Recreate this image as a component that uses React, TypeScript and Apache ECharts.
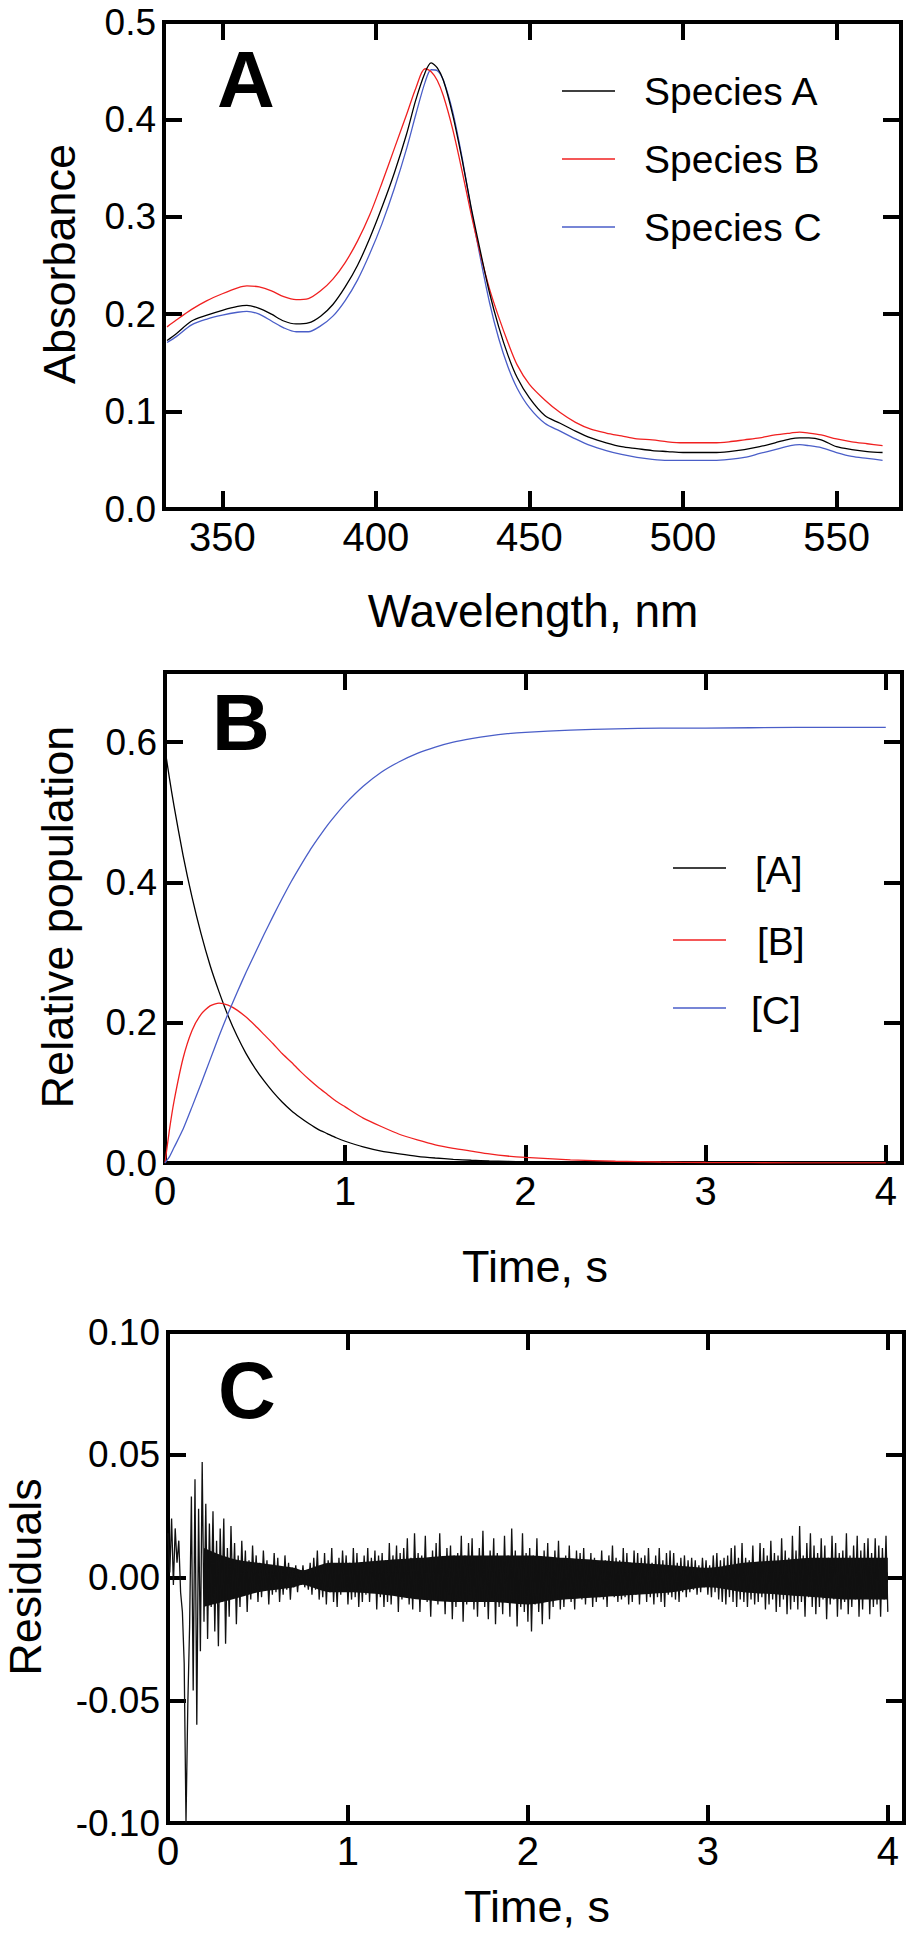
import React, { useEffect, useRef } from "react";
import * as echarts from "echarts";

// ---------- Panel A: spectra ----------
const wavelengths = [332, 335, 340, 345, 350, 355, 358, 362, 366, 370, 374, 378, 382, 386, 390, 394, 398, 402, 406, 410, 413, 416, 418, 420, 422, 425, 428, 431, 434, 437, 440, 443, 446, 450, 455, 460, 465, 470, 475, 480, 485, 490, 495, 500, 505, 510, 515, 520, 525, 530, 535, 538, 541, 545, 550, 555, 560, 565];
const speciesA = [0.173, 0.180, 0.193, 0.199, 0.204, 0.208, 0.209, 0.206, 0.200, 0.193, 0.190, 0.191, 0.198, 0.210, 0.228, 0.250, 0.278, 0.310, 0.345, 0.385, 0.420, 0.448, 0.458, 0.453, 0.440, 0.405, 0.360, 0.310, 0.265, 0.222, 0.187, 0.158, 0.135, 0.114, 0.096, 0.088, 0.080, 0.073, 0.068, 0.064, 0.062, 0.060, 0.059, 0.058, 0.058, 0.058, 0.059, 0.061, 0.064, 0.068, 0.072, 0.073, 0.073, 0.071, 0.064, 0.061, 0.059, 0.058];
const speciesB = [0.187, 0.194, 0.205, 0.214, 0.221, 0.227, 0.229, 0.228, 0.224, 0.218, 0.215, 0.216, 0.224, 0.236, 0.253, 0.275, 0.302, 0.335, 0.370, 0.405, 0.432, 0.452, 0.449, 0.440, 0.424, 0.390, 0.348, 0.303, 0.262, 0.226, 0.197, 0.171, 0.148, 0.128, 0.112, 0.099, 0.089, 0.082, 0.078, 0.075, 0.072, 0.071, 0.069, 0.068, 0.068, 0.068, 0.069, 0.071, 0.073, 0.076, 0.078, 0.079, 0.078, 0.076, 0.072, 0.069, 0.067, 0.065];
const speciesC = [0.171, 0.177, 0.189, 0.195, 0.199, 0.202, 0.203, 0.200, 0.193, 0.186, 0.182, 0.182, 0.188, 0.198, 0.214, 0.235, 0.262, 0.293, 0.329, 0.370, 0.405, 0.438, 0.451, 0.450, 0.440, 0.408, 0.362, 0.308, 0.258, 0.212, 0.175, 0.146, 0.124, 0.104, 0.088, 0.080, 0.072, 0.065, 0.060, 0.056, 0.053, 0.051, 0.050, 0.050, 0.050, 0.050, 0.051, 0.053, 0.057, 0.061, 0.065, 0.066, 0.065, 0.063, 0.058, 0.054, 0.052, 0.050];

// ---------- Panel B: populations ----------
const times = [0, 0.025, 0.05, 0.1, 0.15, 0.2, 0.25, 0.3, 0.35, 0.4, 0.45, 0.5, 0.55, 0.6, 0.65, 0.7, 0.75, 0.8, 0.85, 0.9, 0.95, 1.0, 1.1, 1.2, 1.3, 1.4, 1.5, 1.6, 1.7, 1.8, 1.9, 2.0, 2.25, 2.5, 2.75, 3.0, 3.5, 4.0];
const popA = [0.590, 0.548, 0.509, 0.439, 0.379, 0.327, 0.282, 0.244, 0.210, 0.181, 0.156, 0.135, 0.117, 0.101, 0.087, 0.075, 0.065, 0.056, 0.048, 0.042, 0.036, 0.031, 0.023, 0.017, 0.013, 0.0095, 0.0071, 0.0053, 0.0039, 0.0029, 0.0022, 0.0016, 0.0008, 0.0004, 0.0002, 0.0001, 0, 0];
const popB = [0, 0.048, 0.088, 0.149, 0.189, 0.212, 0.224, 0.228, 0.225, 0.218, 0.208, 0.196, 0.183, 0.170, 0.156, 0.144, 0.131, 0.119, 0.108, 0.098, 0.088, 0.080, 0.064, 0.052, 0.041, 0.033, 0.026, 0.021, 0.017, 0.013, 0.010, 0.008, 0.0045, 0.0025, 0.0014, 0.0007, 0.0002, 0.0001];
const popC = [0, 0.009, 0.022, 0.048, 0.080, 0.113, 0.147, 0.181, 0.213, 0.243, 0.272, 0.299, 0.326, 0.352, 0.377, 0.401, 0.423, 0.444, 0.463, 0.481, 0.497, 0.512, 0.537, 0.557, 0.572, 0.584, 0.593, 0.600, 0.605, 0.609, 0.612, 0.614, 0.617, 0.619, 0.620, 0.620, 0.621, 0.621];

// ---------- Panel C: residuals (units of 0.001), sampled every 0.01 s ----------
const residualStep = 0.01;
const residualsMilli = [
  18, 2, 24, -3, 20, 6, 15, -6, -14, -35,
  -100, -52, -20, 33, -46, 40, -60, 28, -30, 47,
  -18, 30, -25, 22, -12, 27, -22, 15, -28, 20,
  -10, 24, -27, 12, -16, 21, -8, 14, -19, 9,
  -12, 15, -6, 11, -14, 7, -9, 13, -5, 9,
  -10, 6, -8, 11, -4, 7, -11, 5, -7, 10,
  -6, 8, -10, 4, -7, 9, -5, 6, -9, 4,
  -4, 5, -6, 3, -3, 5, -4, 2, -5, 6,
  -7, 8, -5, 11, -9, 4, -8, 10, -11, 7,
  -6, 12, -10, 5, -12, 8, -7, 11, -4, 9,
  -11, 6, -9, 12, -8, 10, -12, 5, -10, 9,
  -7, 12, -10, 8, -6, 11, -13, 9, -8, 10,
  -12, 7, -10, 14, -11, 9, -6, 13, -14, 10,
  -9, 12, -7, 16, -11, 8, -13, 18, -6, 10,
  -14, 9, -8, 17, -10, 7, -16, 11, -9, 14,
  -11, 18, -9, 8, -15, 12, -7, 13, -17, 9,
  -12, 10, -8, 17, -18, 9, -11, 14, -7, 16,
  -13, 8, -16, 12, -9, 19, -12, 8, -17, 11,
  -8, 16, -19, 10, -12, 7, -15, 17, -10, 9,
  -16, 20, -9, 11, -20, 8, -12, 18, -14, 10,
  -18, 12, -22, 9, -11, 16, -14, 8, -19, 11,
  -10, 14, -17, 8, -12, 11, -9, 15, -13, 7,
  -12, 9, -8, 13, -10, 7, -13, 11, -7, 10,
  -9, 12, -11, 7, -8, 10, -12, 8, -10, 6,
  -8, 11, -9, 7, -12, 9, -6, 13, -8, 8,
  -10, 7, -9, 12, -8, 10, -11, 6, -10, 11,
  -7, 10, -11, 8, -6, 9, -10, 12, -8, 6,
  -11, 9, -8, 12, -10, 7, -12, 10, -7, 11,
  -8, 10, -9, 6, -10, 8, -6, 9, -8, 7,
  -6, 8, -5, 7, -7, 5, -6, 8, -4, 7,
  -7, 5, -8, 9, -6, 10, -9, 7, -10, 8,
  -11, 9, -8, 12, -10, 13, -12, 8, -9, 14,
  -10, 8, -12, 7, -9, 13, -11, 6, -10, 14,
  -8, 12, -13, 9, -11, 15, -9, 10, -14, 9,
  -12, 16, -9, 11, -15, 8, -13, 17, -10, 11,
  -13, 21, -10, 9, -16, 14, -8, 18, -12, 13,
  -15, 10, -12, 16, -9, 13, -17, 8, -11, 17,
  -9, 14, -16, 10, -13, 11, -10, 18, -15, 9,
  -12, 13, -9, 17, -16, 11, -13, 14, -8, 16,
  -15, 10, -12, 16, -11, 13, -16, 12, -9, 17,
  -14,
];
// dense core of the residual trace (units of 0.001), read as an envelope
const coreTimes = [0.2, 0.3, 0.4, 0.5, 0.6, 0.7, 0.75, 0.8, 0.9, 1.0, 1.2, 1.4, 1.6, 1.8, 2.0, 2.2, 2.4, 2.6, 2.8, 3.0, 3.2, 3.4, 3.6, 3.8, 4.0];
const coreHiMilli = [12, 9, 7, 6, 5, 4, 3, 4, 6, 6, 7, 8, 9, 9, 9, 8, 7, 6, 5, 4, 6, 7, 8, 8, 8];
const coreLoMilli = [-12, -10, -8, -6, -5, -4, -3, -4, -6, -6, -7, -9, -10, -10, -11, -9, -8, -7, -6, -4, -6, -7, -8, -9, -9];

// ---------- labels ----------
const legendA = ["Species A", "Species B", "Species C"];
const legendB = ["[A]", "[B]", "[C]"];
const colors = ["#000000", "#f02020", "#4a5ec8"];

const FONT = "'Liberation Sans', Arial, Helvetica, sans-serif";

const isMultiple = (v: number, step: number) => Math.abs(v / step - Math.round(v / step)) < 1e-6;

const tickStyle = { inside: true, length: 18, lineStyle: { color: "#000", width: 4 } };

function makeAxes(
  gridIndex: number,
  dir: "x" | "y",
  scale: any,
  formatter: (v: number) => string,
  fontSize: number,
  margin: number
) {
  const common = {
    type: "value",
    gridIndex,
    ...scale,
    axisLine: { show: false, onZero: false },
    splitLine: { show: false },
    axisTick: tickStyle,
  };
  const main = {
    ...common,
    position: dir === "x" ? "bottom" : "left",
    axisLabel: { color: "#000", fontSize, lineHeight: fontSize * 0.8, fontFamily: FONT, margin, formatter },
  };
  const mirror = {
    ...common,
    position: dir === "x" ? "top" : "right",
    axisLabel: { show: false },
  };
  return [main, mirror];
}

function text(t: string, x: number, y: number, size: number, opts: any = {}) {
  return {
    type: "text",
    x,
    y,
    rotation: opts.rot || 0,
    silent: true,
    z: 100,
    style: {
      text: t,
      fill: "#000",
      fontSize: size,
      fontFamily: FONT,
      fontWeight: opts.bold ? "bold" : "normal",
      align: opts.align || "center",
      verticalAlign: "middle",
    },
  };
}

function legendLine(x1: number, x2: number, y: number, color: string) {
  return {
    type: "line",
    silent: true,
    z: 100,
    shape: { x1, y1: y, x2, y2: y },
    style: { stroke: color, lineWidth: 1.5 },
  };
}

export default function App() {
  const ref = useRef<HTMLDivElement>(null);

  useEffect(() => {
    if (!ref.current) return;
    const chart = echarts.init(ref.current, undefined, { renderer: "svg" });

    const grids = [
      { left: 164, top: 22, width: 737, height: 487 },
      { left: 165, top: 672, width: 737, height: 491 },
      { left: 168, top: 1332, width: 736, height: 491 },
    ].map((g) => ({ ...g, show: true, borderColor: "#000", borderWidth: 4, backgroundColor: "transparent" }));

    const xAxes = [
      ...makeAxes(0, "x", { min: 331, max: 571, minInterval: 50, maxInterval: 50 },
        (v) => (isMultiple(v, 50) ? String(Math.round(v)) : ""), 40, 12),
      ...makeAxes(1, "x", { min: 0, max: 4.09, minInterval: 1, maxInterval: 1 },
        (v) => (isMultiple(v, 1) ? String(Math.round(v)) : ""), 40, 12),
      ...makeAxes(2, "x", { min: 0, max: 4.09, minInterval: 1, maxInterval: 1 },
        (v) => (isMultiple(v, 1) ? String(Math.round(v)) : ""), 40, 12),
    ];
    const yAxes = [
      ...makeAxes(0, "y", { min: 0, max: 0.5, interval: 0.1 },
        (v) => v.toFixed(1), 37, 8),
      ...makeAxes(1, "y", { min: 0, max: 0.7, interval: 0.2 },
        (v) => (isMultiple(v, 0.2) ? v.toFixed(1) : ""), 37, 8),
      ...makeAxes(2, "y", { min: -0.1, max: 0.1, interval: 0.05 },
        (v) => (Math.abs(v) < 1e-9 ? 0 : v).toFixed(2), 37, 8),
    ];

    const specSeries = [speciesA, speciesB, speciesC].map((vals, k) => ({
      type: "line",
      name: legendA[k],
      xAxisIndex: 0,
      yAxisIndex: 0,
      showSymbol: false,
      smooth: 0.3,
      data: wavelengths.map((w, i) => [w, vals[i]]),
      lineStyle: { color: colors[k], width: 1.3 },
      z: 10 - k,
    }));

    const popSeries = [popA, popB, popC].map((vals, k) => ({
      type: "line",
      name: legendB[k],
      xAxisIndex: 2,
      yAxisIndex: 2,
      showSymbol: false,
      smooth: 0.2,
      data: times.map((t, i) => [t, vals[i]]),
      lineStyle: { color: colors[k], width: 1.3 },
    }));

    const coreSeries = [coreHiMilli, coreLoMilli].map((vals, k) => ({
      type: "line",
      name: k === 0 ? "core-hi" : "core-lo",
      xAxisIndex: 4,
      yAxisIndex: 4,
      showSymbol: false,
      silent: true,
      smooth: 0.3,
      data: coreTimes.map((t, i) => [t, vals[i] / 1000]),
      lineStyle: { width: 0, opacity: 0 },
      areaStyle: { color: "#111", opacity: 1, origin: k === 0 ? -0.002 : 0.002 },
    }));

    const residSeries = {
      type: "line",
      name: "Residuals",
      xAxisIndex: 4,
      yAxisIndex: 4,
      showSymbol: false,
      data: residualsMilli.map((r, i) => [i * residualStep, r / 1000]),
      lineStyle: { color: "#111", width: 1.3 },
    };

    const graphic = [
      text("A", 246, 79, 80, { bold: true }),
      text("B", 241, 722, 80, { bold: true }),
      text("C", 247, 1390, 80, { bold: true }),
      text("Absorbance", 59, 264, 45, { rot: Math.PI / 2 }),
      text("Relative population", 57, 917, 45, { rot: Math.PI / 2 }),
      text("Residuals", 25, 1577, 45, { rot: Math.PI / 2 }),
      text("Wavelength, nm", 533, 611, 46),
      text("Time, s", 535, 1266, 45),
      text("Time, s", 537, 1906, 45),
      ...legendA.map((n, k) => legendLine(562, 615, [91, 159, 227][k], colors[k])),
      ...legendA.map((n, k) => text(n, 644, [91, 159, 227][k], 39, { align: "left" })),
      ...legendB.map((n, k) => legendLine(673, 726, [868, 940, 1008][k], colors[k])),
      ...legendB.map((n, k) => text(n, [755, 757, 751][k], [870, 941, 1010][k], 39, { align: "left" })),
    ];

    chart.setOption({
      animation: false,
      backgroundColor: "#ffffff",
      grid: grids,
      xAxis: xAxes,
      yAxis: yAxes,
      series: [...specSeries, ...popSeries, ...coreSeries, residSeries],
      graphic,
    });

    return () => chart.dispose();
  }, []);

  return (
    <div
      ref={ref}
      style={{ position: "absolute", left: 0, top: 0, width: 909, height: 1950, background: "#fff" }}
    />
  );
}
